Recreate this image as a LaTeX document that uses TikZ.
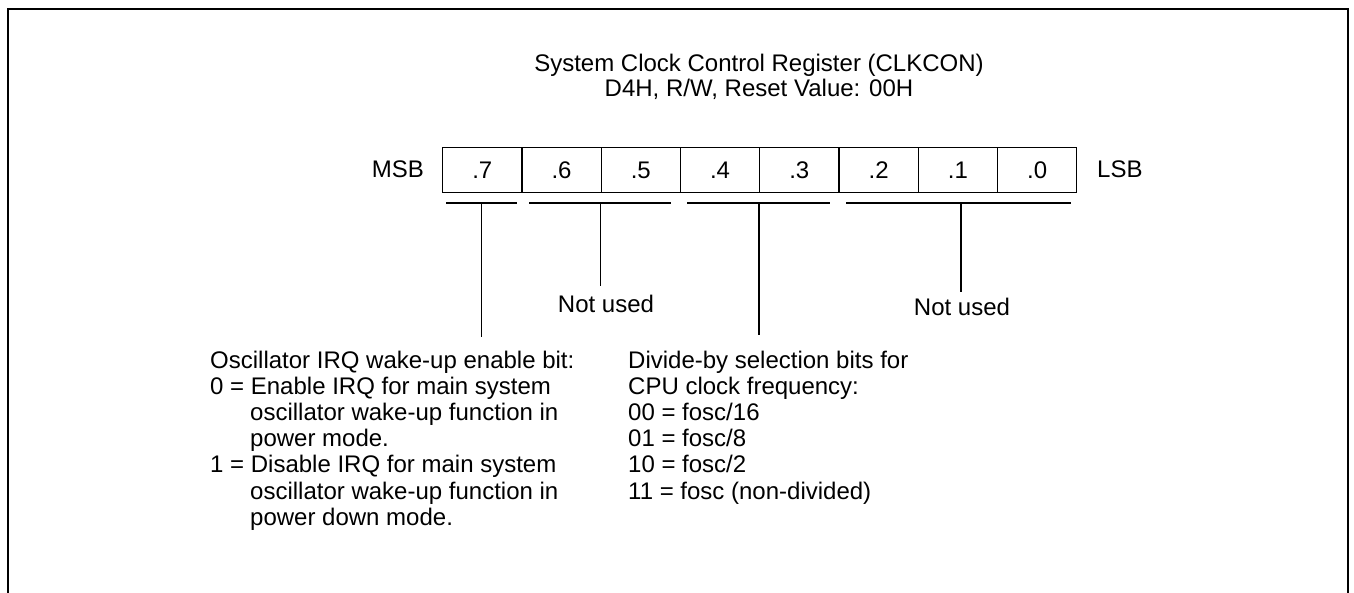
\documentclass[tikz,border=0pt]{standalone}
\usepackage{fontspec}
\setmainfont{Liberation Sans}
\begin{document}
\begin{tikzpicture}[x=1pt,y=-1pt,
  txt/.style={inner sep=0pt,font=\fontsize{24}{26}\selectfont},
  cell/.style={draw,line width=1.4pt,minimum width=79.25pt,minimum height=45pt,inner sep=0pt,anchor=north west,font=\fontsize{24}{26}\selectfont},
  bar/.style={line width=1.3pt},
  frame/.style={line width=2.6pt}]
\useasboundingbox (0,0) rectangle (1354,593);
% frame
\draw[frame] (8,600) -- (8,9) -- (1348,9) -- (1348,600);
% title
\node[txt,anchor=base] (t1) at (759,72) {System Clock Control Register (CLKCON)};
\node[txt,anchor=base] (t2) at (759,97) {D4H, R/W, Reset Value: 00H};
% register cells
\node[cell] (b7) at (442,147) {.7};
\node[cell] (b6) at (521.25,147) {.6};
\node[cell] (b5) at (600.5,147) {.5};
\node[cell] (b4) at (679.75,147) {.4};
\node[cell] (b3) at (759,147) {.3};
\node[cell] (b2) at (838.25,147) {.2};
\node[cell] (b1) at (917.5,147) {.1};
\node[cell] (b0) at (996.75,147) {.0};
\node[txt,anchor=base east] (msb) at (424,178) {MSB};
\node[txt,anchor=base west] (lsb) at (1097,178) {LSB};
% under bars
\draw[bar] (446,203) -- (517,203);
\draw[bar] (529,203) -- (671,203);
\draw[bar] (687,203) -- (830,203);
\draw[bar] (846,203) -- (1071,203);
% leader lines
\coordinate (c7) at (481.6,203);
\coordinate (c65) at (600.5,203);
\coordinate (c43) at (759,203);
\coordinate (c20) at (961,203);
\node[txt,anchor=base] (nu1) at (606,313) {Not used};
\node[txt,anchor=base] (nu2) at (962,316) {Not used};
\coordinate (e7) at (481.6,337);
\coordinate (e43) at (759,335);
\draw[bar] (c7) -- (e7);
\draw[bar] (c65) -- (600.5,286);
\draw[bar] (c43) -- (e43);
\draw[bar] (c20) -- (961,292);
% left description
\node[txt,anchor=base west] (l1) at (210,368) {Oscillator IRQ wake-up enable bit:};
\node[txt,anchor=base west] (l2) at (210,394.2) {0 = Enable IRQ for main system};
\node[txt,anchor=base west] (l3) at (250,420.4) {oscillator wake-up function in};
\node[txt,anchor=base west] (l4) at (250,446.6) {power mode.};
\node[txt,anchor=base west] (l5) at (210,472.8) {1 = Disable IRQ for main system};
\node[txt,anchor=base west] (l6) at (250,499) {oscillator wake-up function in};
\node[txt,anchor=base west] (l7) at (250,525.2) {power down mode.};
% right description
\node[txt,anchor=base west] (r1) at (628,368) {Divide-by selection bits for};
\node[txt,anchor=base west] (r2) at (628,394.2) {CPU clock frequency:};
\node[txt,anchor=base west] (r3) at (628,420.4) {00 = fosc/16};
\node[txt,anchor=base west] (r4) at (628,446.6) {01 = fosc/8};
\node[txt,anchor=base west] (r5) at (628,472.8) {10 = fosc/2};
\node[txt,anchor=base west] (r6) at (628,499) {11 = fosc (non-divided)};
\end{tikzpicture}
\end{document}
